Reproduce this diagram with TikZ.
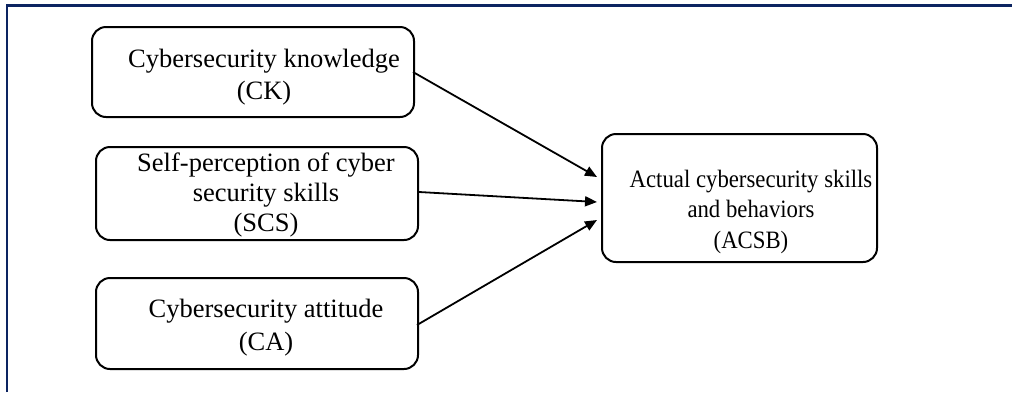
\documentclass[tikz,border=0pt]{standalone}
\usepackage{fontspec}
\setmainfont{Liberation Serif}
\usetikzlibrary{arrows.meta,calc}
\definecolor{framenavy}{RGB}{12,36,97}
\tikzset{
  box/.style={draw=black, line width=2pt, rounded corners=14pt, rectangle, inner sep=0pt},
  lbl/.style 2 args={align=center, inner sep=0pt, font=\fontsize{#1}{#2}\selectfont},
  conn/.style={draw=black, line width=1.8pt, -{Triangle[length=12pt,width=10pt]}},
  frame/.style={draw=framenavy, line width=2.6pt}
}
\begin{document}
\begin{tikzpicture}[x=1pt,y=-1pt]
\useasboundingbox (0,0) rectangle (1012,392);
\draw[frame] (7,392) -- (7,5.5) -- (1012,5.5);
% boxes
\node[box, minimum width=322pt, minimum height=90pt] (ck) at (253,72) {};
\node[box, minimum width=322pt, minimum height=93pt] (scs) at (257,193.5) {};
\node[box, minimum width=322pt, minimum height=91pt] (ca) at (257,323.5) {};
\node[box, minimum width=275pt, minimum height=128pt] (acsb) at (739.5,198) {};
% labels
\node[lbl={26.5}{32}] (ckt) at (264,77.3) {Cybersecurity knowledge\\(CK)};
\node[lbl={26.5}{30}] (scst) at (266,195.3) {Self-perception of cyber\\security skills\\(SCS)};
\node[lbl={26.5}{33}] (cat) at (266,327.8) {Cybersecurity attitude\\(CA)};
\node[inner sep=0pt] (acsbt) at (751,211.4) {\fontsize{25}{30.5}\selectfont\scalebox{0.91}[1]{\begin{tabular}{@{}c@{}}Actual cybersecurity skills\\and behaviors\\(ACSB)\end{tabular}}};
% arrow ends
\coordinate (t1) at ($(acsb.west)+(-4,-21)$);
\coordinate (t2) at ($(acsb.west)+(-4,4)$);
\coordinate (t3) at ($(acsb.west)+(-4,22)$);
\draw[conn] ($(ck.east)+(-2,0)$) -- (t1);
\draw[conn] ($(scs.east)+(0,-1.5)$) -- (t2);
\draw[conn] ($(ca.east)+(-2,1.5)$) -- (t3);
\end{tikzpicture}
\end{document}
